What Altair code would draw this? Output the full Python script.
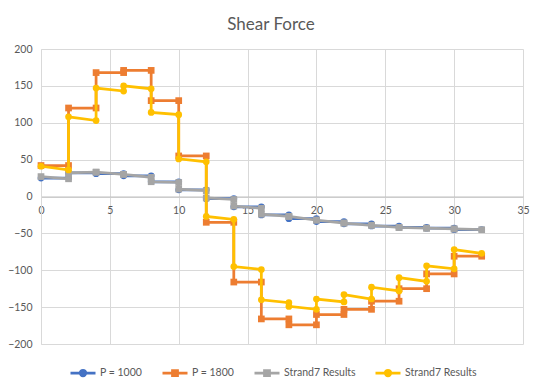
import altair as alt
import pandas as pd

FONT = "Lato"
TEXT = "#595959"

# x positions (each load point appears twice: left / right of the jump)
x_pts = [0, 2, 2, 4, 4, 6, 6, 8, 8, 10, 10, 12, 12, 14, 14, 16,
         16, 18, 18, 20, 20, 22, 22, 24, 24, 26, 26, 28, 28, 30, 30, 32]

p1000 = [25, 25, 32, 32, 31, 31, 28, 28, 20, 20, 9, 9, -3, -3, -14, -14,
         -25, -25, -30, -30, -34, -34, -37, -37, -40, -40, -42, -42, -43, -43, -45, -45]

p1800 = [42, 42, 120, 120, 168, 168, 171, 171, 130, 130, 55, 55, -35, -35, -116, -116,
         -166, -166, -174, -174, -160, -160, -153, -153, -142, -142, -125, -125, -105, -105, -81, -81]

strand7_a = [27, 24, 32, 33, 33, 30, 30, 26, 20, 19, 10, 8, -2, -4, -13, -16,
             -24, -27, -27, -32, -32, -36, -36, -39, -39, -42, -42, -43, -43, -44, -44, -45]

strand7_b = [41, 36, 108, 103, 147, 143, 150, 146, 114, 111, 51, 47, -27, -31, -95, -99,
             -140, -144, -149, -153, -139, -143, -133, -139, -123, -128, -110, -115, -94, -98, -72, -77]

series_names = ["P = 1000", "P = 1800", "Strand7 Results A", "Strand7 Results B"]
series_vals = [p1000, p1800, strand7_a, strand7_b]
colors = ["#4472C4", "#ED7D31", "#A5A5A5", "#FFC000"]
shapes = ["circle", "square", "square", "circle"]

x_ticks = [0, 5, 10, 15, 20, 25, 30, 35]
y_ticks = [-200, -150, -100, -50, 0, 50, 100, 150, 200]

rows = []
for name, vals in zip(series_names, series_vals):
    for i, (xv, yv) in enumerate(zip(x_pts, vals)):
        rows.append({"series": name, "x": xv, "y": yv, "idx": i})
df = pd.DataFrame(rows)

CIRCLE_PATH = "M-1,0H1M-0.22,0A0.22,0.22,0,1,0,0.22,0A0.22,0.22,0,1,0,-0.22,0Z"
SQUARE_PATH = "M-1,0H1M-0.2,-0.2H0.2V0.2H-0.2Z"
legend_paths = [CIRCLE_PATH if s == "circle" else SQUARE_PATH for s in shapes]

legend = alt.Legend(
    title=None, orient="none", legendX=28, legendY=310,
    direction="horizontal", columns=4, columnPadding=14, gridAlign="none",
    labelExpr="indexof(datum.label, 'Strand7') == 0 ? 'Strand7 Results' : datum.label",
    labelFont=FONT, labelFontSize=10.5, labelColor=TEXT, labelOffset=3,
    symbolSize=625, symbolStrokeWidth=2.75, symbolOpacity=1,
)

color = alt.Color("series:N", scale=alt.Scale(domain=series_names, range=colors), legend=legend)
shape_enc = alt.Shape("series:N", scale=alt.Scale(domain=series_names, range=legend_paths),
                      legend=legend)

x_enc = alt.X("x:Q", scale=alt.Scale(domain=[0, 35], nice=False),
              axis=alt.Axis(values=x_ticks, offset=-147.5, grid=True, gridColor="#d9d9d9",
                            domainColor="#bfbfbf", domainWidth=1, ticks=False, labelPadding=9,
                            labelFlush=False, labelOverlap=False, title=None,
                            labelFont=FONT, labelFontSize=10.5, labelColor=TEXT))
y_enc = alt.Y("y:Q", scale=alt.Scale(domain=[-200, 200], nice=False, zero=False),
              axis=alt.Axis(values=y_ticks, grid=True, gridColor="#d9d9d9",
                            domainColor="#d9d9d9", ticks=False, labelPadding=9,
                            labelFlush=False, labelOverlap=False, title=None,
                            labelFont=FONT, labelFontSize=10.5, labelColor=TEXT))

layers = []
for name, shape in zip(series_names, shapes):
    base = alt.Chart(df).transform_filter(alt.datum.series == name)
    layers.append(base.mark_line(strokeWidth=2.75).encode(
        x=x_enc, y=y_enc, order="idx:Q", color=color))
    layers.append(base.mark_point(shape=shape, filled=True, size=45, opacity=1).encode(
        x=x_enc, y=y_enc, color=color))

# legend-only layer (no rows drawn) giving line+marker legend symbols
legend_layer = alt.Chart(df).transform_filter("false").mark_point(
    filled=True, size=625, strokeWidth=2.75, opacity=1
).encode(x=x_enc, y=y_enc, color=color, shape=shape_enc)
layers.append(legend_layer)

chart = alt.layer(*layers).properties(
    width=482, height=295,
    title=alt.TitleParams("Shear Force", font=FONT, fontSize=17, color=TEXT,
                          fontWeight="normal", anchor="middle", dx=-11, offset=10),
    autosize=alt.AutoSizeParams(type="none"),
    padding={"left": 33, "top": 41, "right": 10, "bottom": 37},
).configure_view(strokeWidth=0)

chart.save("out.html", embed_options={"renderer": "svg", "actions": False})
